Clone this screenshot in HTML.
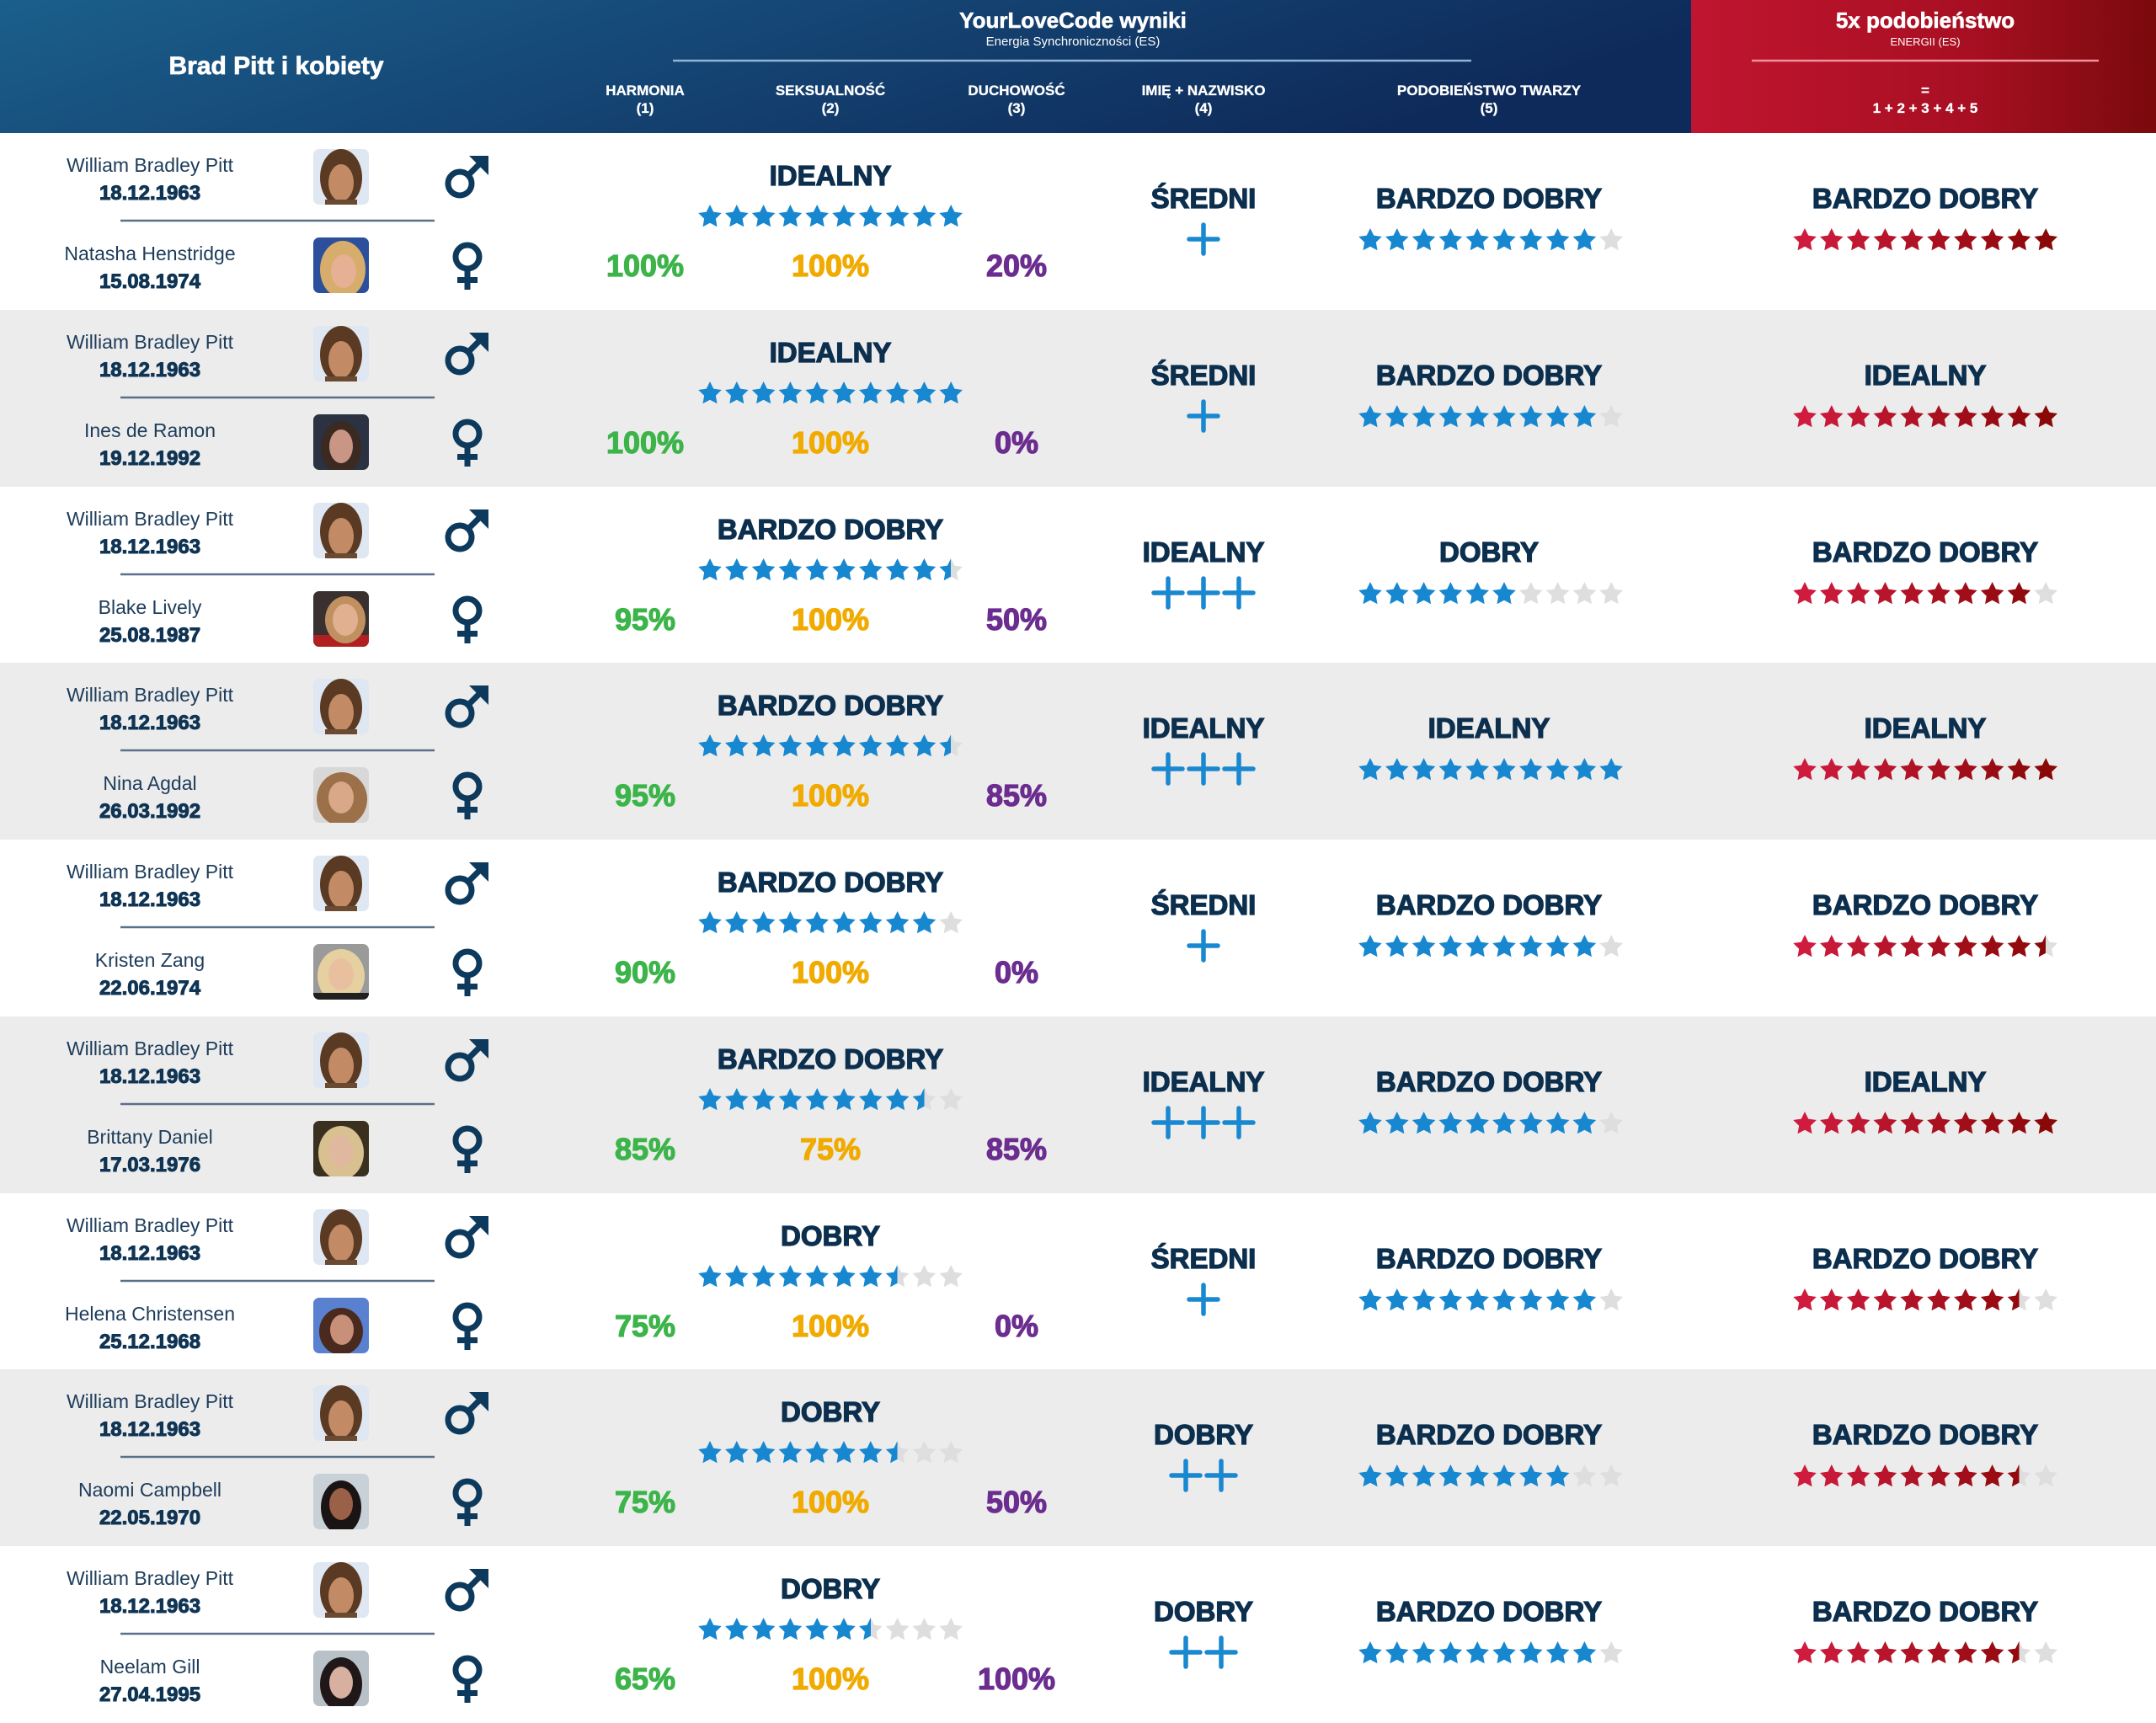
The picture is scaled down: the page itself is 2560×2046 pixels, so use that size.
<!DOCTYPE html>
<html><head><meta charset="utf-8"><style>
html,body{margin:0;padding:0;background:#fff;}
body{width:2560px;height:2046px;overflow:hidden;}
svg{display:block;}
text{font-family:"Liberation Sans","DejaVu Sans",sans-serif;text-anchor:middle;}
.h1{font-weight:bold;font-size:30px;fill:#fff;stroke:#fff;stroke-width:0.7;}
.h2{font-weight:bold;font-size:26px;fill:#fff;stroke:#fff;stroke-width:0.6;}
.h3{font-size:15px;fill:#fff;}
.h4{font-size:13px;fill:#fff;}
.ch{font-weight:bold;font-size:17px;fill:#fff;stroke:#fff;stroke-width:0.3;}
.nm{font-size:23px;fill:#1d3c5a;}
.dt{font-weight:bold;font-size:24px;fill:#0f3454;stroke:#0f3454;stroke-width:1;}
.lb{font-weight:bold;font-size:33px;fill:#0c2f4e;stroke:#0c2f4e;stroke-width:1.3;}
.pg{font-weight:bold;font-size:36px;fill:#3cb44a;stroke:#3cb44a;stroke-width:1.2;}
.py{font-weight:bold;font-size:36px;fill:#f0aa00;stroke:#f0aa00;stroke-width:1.2;}
.pp{font-weight:bold;font-size:36px;fill:#6b2d8f;stroke:#6b2d8f;stroke-width:1.2;}
.dv{stroke:#5a7089;stroke-width:2.5;}
</style></head><body>
<svg width="2560" height="2046" viewBox="0 0 2560 2046" xmlns="http://www.w3.org/2000/svg" xmlns:xlink="http://www.w3.org/1999/xlink">
<defs>
<linearGradient id="hg" x1="0" y1="0" x2="1" y2="0.25"><stop offset="0" stop-color="#1b5f8c"/><stop offset="1" stop-color="#0e2a5a"/></linearGradient>
<linearGradient id="rg" x1="0" y1="0" x2="1" y2="0"><stop offset="0" stop-color="#c01530"/><stop offset="0.6" stop-color="#a80f22"/><stop offset="1" stop-color="#7a0a0c"/></linearGradient>
<linearGradient id="hb" x1="0" y1="0" x2="1" y2="0"><stop offset="0.5" stop-color="#1787d0"/><stop offset="0.5" stop-color="#dedede"/></linearGradient>
<linearGradient id="hr8" x1="0" y1="0" x2="1" y2="0"><stop offset="0.5" stop-color="#920a0e"/><stop offset="0.5" stop-color="#dedede"/></linearGradient>
<linearGradient id="hr9" x1="0" y1="0" x2="1" y2="0"><stop offset="0.5" stop-color="#8a0808"/><stop offset="0.5" stop-color="#dedede"/></linearGradient>
<clipPath id="pc"><rect width="66" height="66" rx="7"/></clipPath>
<polygon id="s" points="14,0 18.23,8.68 27.79,10.02 20.85,16.72 22.52,26.23 14,21.7 5.48,26.23 7.15,16.72 0.21,10.02 9.77,8.68"/>

<g id="b10" fill="#1787d0"><use href="#s" x="0"/><use href="#s" x="31.8"/><use href="#s" x="63.6"/><use href="#s" x="95.4"/><use href="#s" x="127.2"/><use href="#s" x="159"/><use href="#s" x="190.8"/><use href="#s" x="222.6"/><use href="#s" x="254.4"/><use href="#s" x="286.2"/></g>
<g id="b9"><g fill="#1787d0"><use href="#s" x="0"/><use href="#s" x="31.8"/><use href="#s" x="63.6"/><use href="#s" x="95.4"/><use href="#s" x="127.2"/><use href="#s" x="159"/><use href="#s" x="190.8"/><use href="#s" x="222.6"/><use href="#s" x="254.4"/></g><use href="#s" x="286.2" fill="#dedede"/></g>
<g id="b95"><g fill="#1787d0"><use href="#s" x="0"/><use href="#s" x="31.8"/><use href="#s" x="63.6"/><use href="#s" x="95.4"/><use href="#s" x="127.2"/><use href="#s" x="159"/><use href="#s" x="190.8"/><use href="#s" x="222.6"/><use href="#s" x="254.4"/></g><use href="#s" x="286.2" fill="url(#hb)"/></g>
<g id="b85"><g fill="#1787d0"><use href="#s" x="0"/><use href="#s" x="31.8"/><use href="#s" x="63.6"/><use href="#s" x="95.4"/><use href="#s" x="127.2"/><use href="#s" x="159"/><use href="#s" x="190.8"/><use href="#s" x="222.6"/></g><use href="#s" x="254.4" fill="url(#hb)"/><use href="#s" x="286.2" fill="#dedede"/></g>
<g id="b8"><g fill="#1787d0"><use href="#s" x="0"/><use href="#s" x="31.8"/><use href="#s" x="63.6"/><use href="#s" x="95.4"/><use href="#s" x="127.2"/><use href="#s" x="159"/><use href="#s" x="190.8"/><use href="#s" x="222.6"/></g><g fill="#dedede"><use href="#s" x="254.4"/><use href="#s" x="286.2"/></g></g>
<g id="b75"><g fill="#1787d0"><use href="#s" x="0"/><use href="#s" x="31.8"/><use href="#s" x="63.6"/><use href="#s" x="95.4"/><use href="#s" x="127.2"/><use href="#s" x="159"/><use href="#s" x="190.8"/></g><use href="#s" x="222.6" fill="url(#hb)"/><g fill="#dedede"><use href="#s" x="254.4"/><use href="#s" x="286.2"/></g></g>
<g id="b65"><g fill="#1787d0"><use href="#s" x="0"/><use href="#s" x="31.8"/><use href="#s" x="63.6"/><use href="#s" x="95.4"/><use href="#s" x="127.2"/><use href="#s" x="159"/></g><use href="#s" x="190.8" fill="url(#hb)"/><g fill="#dedede"><use href="#s" x="222.6"/><use href="#s" x="254.4"/><use href="#s" x="286.2"/></g></g>
<g id="b6"><g fill="#1787d0"><use href="#s" x="0"/><use href="#s" x="31.8"/><use href="#s" x="63.6"/><use href="#s" x="95.4"/><use href="#s" x="127.2"/><use href="#s" x="159"/></g><g fill="#dedede"><use href="#s" x="190.8"/><use href="#s" x="222.6"/><use href="#s" x="254.4"/><use href="#s" x="286.2"/></g></g>

<g id="r8"><use href="#s" x="0" fill="#cf1b3e"/><use href="#s" x="31.8" fill="#c71938"/><use href="#s" x="63.6" fill="#c01732"/><use href="#s" x="95.4" fill="#b8152c"/><use href="#s" x="127.2" fill="#b01326"/><use href="#s" x="159" fill="#a91020"/><use href="#s" x="190.8" fill="#a10e1a"/><use href="#s" x="222.6" fill="#990c14"/></g>
<g id="r10"><use href="#r8"/><use href="#s" x="254.4" fill="#920a0e"/><use href="#s" x="286.2" fill="#8a0808"/></g>
<g id="r9"><use href="#r8"/><use href="#s" x="254.4" fill="#920a0e"/><use href="#s" x="286.2" fill="#dedede"/></g>
<g id="r95"><use href="#r8"/><use href="#s" x="254.4" fill="#920a0e"/><use href="#s" x="286.2" fill="url(#hr9)"/></g>
<g id="r85"><use href="#r8"/><use href="#s" x="254.4" fill="url(#hr8)"/><use href="#s" x="286.2" fill="#dedede"/></g>

<path id="p1" d="M-17 0H17M0 -17V17" stroke="#1a88d0" stroke-width="5.5" stroke-linecap="round" fill="none"/>
<g id="p2"><use href="#p1" x="-21"/><use href="#p1" x="21"/></g>
<g id="p3"><use href="#p1" x="-42"/><use href="#p1"/><use href="#p1" x="42"/></g>

<g id="male"><circle cx="546" cy="60" r="14" fill="none" stroke="#0d3a5c" stroke-width="7"/><line x1="555" y1="51" x2="572" y2="34" stroke="#0d3a5c" stroke-width="7"/><polygon points="557,27 580,27 580,50" fill="#0d3a5c"/></g>
<g id="female" fill="#0d3a5c"><circle cx="555" cy="147" r="14" fill="none" stroke="#0d3a5c" stroke-width="7"/><rect x="551.5" y="163" width="7" height="23"/><rect x="543" y="171" width="24" height="7"/></g>

<g id="brad" clip-path="url(#pc)"><rect width="66" height="66" fill="#dfe7f2"/><ellipse cx="33" cy="34" rx="25" ry="34" fill="#5a3a22"/><ellipse cx="33" cy="40" rx="15" ry="22" fill="#c28b66"/><rect x="14" y="60" width="38" height="6" fill="#6a4a30"/></g>
<g id="man"><use href="#brad" x="372" y="19"/><use href="#male"/><line x1="143" x2="516" y1="104" y2="104" class="dv"/><text class="nm" x="178" y="46">William Bradley Pitt</text><text class="dt" x="178" y="79">18.12.1963</text><use href="#female"/></g>
</defs>

<!-- header -->
<rect x="0" y="0" width="2009" height="158" fill="url(#hg)"/>
<rect x="2008" y="0" width="552" height="158" fill="url(#rg)"/>
<text class="h1" x="328" y="88">Brad Pitt i kobiety</text>
<text class="h2" x="1274" y="33">YourLoveCode wyniki</text>
<text class="h3" x="1274" y="54">Energia Synchroniczności (ES)</text>
<line x1="799" x2="1747" y1="72" y2="72" stroke="#8fb4d8" stroke-width="2.5"/>
<text class="ch" x="766" y="113">HARMONIA</text><text class="ch" x="766" y="134">(1)</text>
<text class="ch" x="986" y="113">SEKSUALNOŚĆ</text><text class="ch" x="986" y="134">(2)</text>
<text class="ch" x="1207" y="113">DUCHOWOŚĆ</text><text class="ch" x="1207" y="134">(3)</text>
<text class="ch" x="1429" y="113">IMIĘ + NAZWISKO</text><text class="ch" x="1429" y="134">(4)</text>
<text class="ch" x="1768" y="113">PODOBIEŃSTWO TWARZY</text><text class="ch" x="1768" y="134">(5)</text>
<text class="h2" x="2286" y="33">5x podobieństwo</text>
<text class="h4" x="2286" y="54">ENERGII (ES)</text>
<line x1="2080" x2="2492" y1="72" y2="72" stroke="#f0909a" stroke-width="2.5"/>
<text class="ch" x="2286" y="113">=</text>
<text class="ch" x="2286" y="134">1 + 2 + 3 + 4 + 5</text>

<!-- row 1 -->
<g transform="translate(0,158)">
<use href="#man"/>
<text class="nm" x="178" y="151">Natasha Henstridge</text><text class="dt" x="178" y="184">15.08.1974</text>
<g transform="translate(372,124)" clip-path="url(#pc)"><rect width="66" height="66" fill="#2c4f9c"/><ellipse cx="35" cy="38" rx="27" ry="34" fill="#d6ad6a"/><ellipse cx="36" cy="40" rx="15" ry="20" fill="#e5b094"/></g>
<text class="lb" x="986" y="62">IDEALNY</text><use href="#b10" x="829" y="85"/>
<text class="pg" x="766" y="170">100%</text><text class="py" x="986" y="170">100%</text><text class="pp" x="1207" y="170">20%</text>
<text class="lb" x="1429" y="89">ŚREDNI</text><use href="#p1" x="1429" y="126"/>
<text class="lb" x="1768" y="89">BARDZO DOBRY</text><use href="#b9" x="1613" y="113"/>
<text class="lb" x="2286" y="89">BARDZO DOBRY</text><use href="#r10" x="2129" y="113"/>
</g>

<!-- row 2 -->
<g transform="translate(0,368)">
<rect width="2560" height="210" fill="#ececec"/>
<use href="#man"/>
<text class="nm" x="178" y="151">Ines de Ramon</text><text class="dt" x="178" y="184">19.12.1992</text>
<g transform="translate(372,124)" clip-path="url(#pc)"><rect width="66" height="66" fill="#2b3242"/><ellipse cx="33" cy="40" rx="24" ry="32" fill="#3b2a22"/><ellipse cx="33" cy="38" rx="14" ry="20" fill="#c99584"/></g>
<text class="lb" x="986" y="62">IDEALNY</text><use href="#b10" x="829" y="85"/>
<text class="pg" x="766" y="170">100%</text><text class="py" x="986" y="170">100%</text><text class="pp" x="1207" y="170">0%</text>
<text class="lb" x="1429" y="89">ŚREDNI</text><use href="#p1" x="1429" y="126"/>
<text class="lb" x="1768" y="89">BARDZO DOBRY</text><use href="#b9" x="1613" y="113"/>
<text class="lb" x="2286" y="89">IDEALNY</text><use href="#r10" x="2129" y="113"/>
</g>

<!-- row 3 -->
<g transform="translate(0,578)">
<use href="#man"/>
<text class="nm" x="178" y="151">Blake Lively</text><text class="dt" x="178" y="184">25.08.1987</text>
<g transform="translate(372,124)" clip-path="url(#pc)"><rect width="66" height="66" fill="#3a3030"/><rect y="52" width="66" height="14" fill="#b02020"/><ellipse cx="38" cy="34" rx="24" ry="28" fill="#c09060"/><ellipse cx="38" cy="34" rx="15" ry="19" fill="#e0b090"/></g>
<text class="lb" x="986" y="62">BARDZO DOBRY</text><use href="#b95" x="829" y="85"/>
<text class="pg" x="766" y="170">95%</text><text class="py" x="986" y="170">100%</text><text class="pp" x="1207" y="170">50%</text>
<text class="lb" x="1429" y="89">IDEALNY</text><use href="#p3" x="1429" y="126"/>
<text class="lb" x="1768" y="89">DOBRY</text><use href="#b6" x="1613" y="113"/>
<text class="lb" x="2286" y="89">BARDZO DOBRY</text><use href="#r9" x="2129" y="113"/>
</g>

<!-- row 4 -->
<g transform="translate(0,787)">
<rect width="2560" height="210" fill="#ececec"/>
<use href="#man"/>
<text class="nm" x="178" y="151">Nina Agdal</text><text class="dt" x="178" y="184">26.03.1992</text>
<g transform="translate(372,124)" clip-path="url(#pc)"><rect width="66" height="66" fill="#d8d8d8"/><ellipse cx="34" cy="38" rx="30" ry="32" fill="#9c7048"/><ellipse cx="33" cy="36" rx="15" ry="19" fill="#d8a888"/></g>
<text class="lb" x="986" y="62">BARDZO DOBRY</text><use href="#b95" x="829" y="85"/>
<text class="pg" x="766" y="170">95%</text><text class="py" x="986" y="170">100%</text><text class="pp" x="1207" y="170">85%</text>
<text class="lb" x="1429" y="89">IDEALNY</text><use href="#p3" x="1429" y="126"/>
<text class="lb" x="1768" y="89">IDEALNY</text><use href="#b10" x="1613" y="113"/>
<text class="lb" x="2286" y="89">IDEALNY</text><use href="#r10" x="2129" y="113"/>
</g>

<!-- row 5 -->
<g transform="translate(0,997)">
<use href="#man"/>
<text class="nm" x="178" y="151">Kristen Zang</text><text class="dt" x="178" y="184">22.06.1974</text>
<g transform="translate(372,124)" clip-path="url(#pc)"><rect width="66" height="66" fill="#9a9a9a"/><ellipse cx="33" cy="38" rx="28" ry="32" fill="#e6d0a0"/><ellipse cx="33" cy="36" rx="15" ry="19" fill="#e8c0a0"/><rect y="58" width="66" height="8" fill="#202020"/></g>
<text class="lb" x="986" y="62">BARDZO DOBRY</text><use href="#b9" x="829" y="85"/>
<text class="pg" x="766" y="170">90%</text><text class="py" x="986" y="170">100%</text><text class="pp" x="1207" y="170">0%</text>
<text class="lb" x="1429" y="89">ŚREDNI</text><use href="#p1" x="1429" y="126"/>
<text class="lb" x="1768" y="89">BARDZO DOBRY</text><use href="#b9" x="1613" y="113"/>
<text class="lb" x="2286" y="89">BARDZO DOBRY</text><use href="#r95" x="2129" y="113"/>
</g>

<!-- row 6 -->
<g transform="translate(0,1207)">
<rect width="2560" height="210" fill="#ececec"/>
<use href="#man"/>
<text class="nm" x="178" y="151">Brittany Daniel</text><text class="dt" x="178" y="184">17.03.1976</text>
<g transform="translate(372,124)" clip-path="url(#pc)"><rect width="66" height="66" fill="#3a3020"/><ellipse cx="33" cy="38" rx="27" ry="32" fill="#d8c090"/><ellipse cx="33" cy="36" rx="14" ry="19" fill="#e0b8a0"/></g>
<text class="lb" x="986" y="62">BARDZO DOBRY</text><use href="#b85" x="829" y="85"/>
<text class="pg" x="766" y="170">85%</text><text class="py" x="986" y="170">75%</text><text class="pp" x="1207" y="170">85%</text>
<text class="lb" x="1429" y="89">IDEALNY</text><use href="#p3" x="1429" y="126"/>
<text class="lb" x="1768" y="89">BARDZO DOBRY</text><use href="#b9" x="1613" y="113"/>
<text class="lb" x="2286" y="89">IDEALNY</text><use href="#r10" x="2129" y="113"/>
</g>

<!-- row 7 -->
<g transform="translate(0,1417)">
<use href="#man"/>
<text class="nm" x="178" y="151">Helena Christensen</text><text class="dt" x="178" y="184">25.12.1968</text>
<g transform="translate(372,124)" clip-path="url(#pc)"><rect width="66" height="66" fill="#5a80d0"/><ellipse cx="33" cy="40" rx="26" ry="28" fill="#4a2a1e"/><ellipse cx="34" cy="38" rx="14" ry="18" fill="#c89078"/></g>
<text class="lb" x="986" y="62">DOBRY</text><use href="#b75" x="829" y="85"/>
<text class="pg" x="766" y="170">75%</text><text class="py" x="986" y="170">100%</text><text class="pp" x="1207" y="170">0%</text>
<text class="lb" x="1429" y="89">ŚREDNI</text><use href="#p1" x="1429" y="126"/>
<text class="lb" x="1768" y="89">BARDZO DOBRY</text><use href="#b9" x="1613" y="113"/>
<text class="lb" x="2286" y="89">BARDZO DOBRY</text><use href="#r85" x="2129" y="113"/>
</g>

<!-- row 8 -->
<g transform="translate(0,1626)">
<rect width="2560" height="210" fill="#ececec"/>
<use href="#man"/>
<text class="nm" x="178" y="151">Naomi Campbell</text><text class="dt" x="178" y="184">22.05.1970</text>
<g transform="translate(372,124)" clip-path="url(#pc)"><rect width="66" height="66" fill="#c8d0d8"/><ellipse cx="33" cy="40" rx="24" ry="32" fill="#1a1414"/><ellipse cx="33" cy="36" rx="14" ry="19" fill="#9a6048"/></g>
<text class="lb" x="986" y="62">DOBRY</text><use href="#b75" x="829" y="85"/>
<text class="pg" x="766" y="170">75%</text><text class="py" x="986" y="170">100%</text><text class="pp" x="1207" y="170">50%</text>
<text class="lb" x="1429" y="89">DOBRY</text><use href="#p2" x="1429" y="126"/>
<text class="lb" x="1768" y="89">BARDZO DOBRY</text><use href="#b8" x="1613" y="113"/>
<text class="lb" x="2286" y="89">BARDZO DOBRY</text><use href="#r85" x="2129" y="113"/>
</g>

<!-- row 9 -->
<g transform="translate(0,1836)">
<use href="#man"/>
<text class="nm" x="178" y="151">Neelam Gill</text><text class="dt" x="178" y="184">27.04.1995</text>
<g transform="translate(372,124)" clip-path="url(#pc)"><rect width="66" height="66" fill="#b8c0c8"/><ellipse cx="33" cy="40" rx="25" ry="32" fill="#201818"/><ellipse cx="33" cy="38" rx="14" ry="19" fill="#d8b0a0"/></g>
<text class="lb" x="986" y="62">DOBRY</text><use href="#b65" x="829" y="85"/>
<text class="pg" x="766" y="170">65%</text><text class="py" x="986" y="170">100%</text><text class="pp" x="1207" y="170">100%</text>
<text class="lb" x="1429" y="89">DOBRY</text><use href="#p2" x="1429" y="126"/>
<text class="lb" x="1768" y="89">BARDZO DOBRY</text><use href="#b9" x="1613" y="113"/>
<text class="lb" x="2286" y="89">BARDZO DOBRY</text><use href="#r85" x="2129" y="113"/>
</g>
</svg>
</body></html>
